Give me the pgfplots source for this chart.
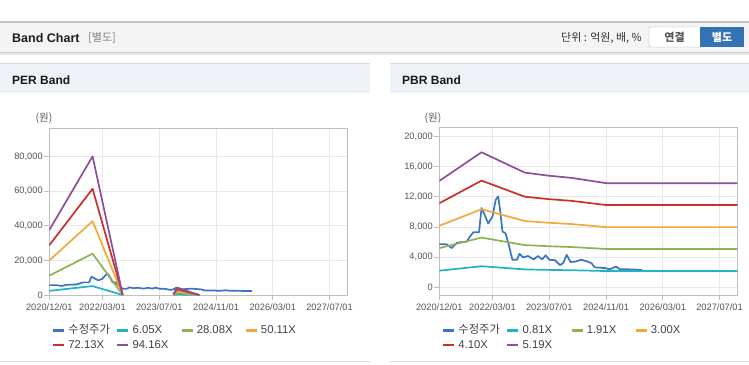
\documentclass[border=0pt]{standalone}
\usepackage{pgfplots}
\pgfplotsset{compat=1.18}
\usepackage{fontspec}
\setmainfont{Liberation Sans}
\newfontfamily\kr{Noto Sans CJK KR}
\definecolor{cPrice}{HTML}{3A75C4}
\definecolor{cCyan}{HTML}{22B2C6}
\definecolor{cGreen}{HTML}{8DB255}
\definecolor{cOrange}{HTML}{F5A83A}
\definecolor{cRed}{HTML}{C9302C}
\definecolor{cPurple}{HTML}{8E4E9C}
\definecolor{cTick}{HTML}{555555}
\definecolor{cFrame}{HTML}{C0C0C0}
\definecolor{cGrid}{HTML}{E8E8E8}
\definecolor{HeadBg}{HTML}{F4F4F4}
\definecolor{HeadLine}{HTML}{C4C4C4}
\definecolor{PanelBg}{HTML}{EEF2F7}
\definecolor{PanelLine}{HTML}{D6DAE0}
\definecolor{BtnBlue}{HTML}{3673B5}

\pgfplotsset{
  bandaxis/.style={
    scale only axis, width=298pt, height=167pt,
    xmin=0, xmax=84,
    xtick={0,15,31,47,63,79},
    xticklabels={2020/12/01,2022/03/01,2023/07/01,2024/11/01,2026/03/01,2027/07/01},
    scaled y ticks=false,
    grid=major, grid style={cGrid, line width=0.8pt},
    axis line style={cFrame, line width=1pt},
    tick style={cFrame, line width=0.8pt},
    major tick length=5pt, tick align=outside, tick pos=left,
    ticklabel style={font=\fontsize{9.3}{10}\selectfont, text=cTick},
    yticklabel style={xshift=2pt},
    every axis plot/.append style={line width=1.7pt, line join=round},
    unbounded coords=jump,
    legend columns=4,
    legend image code/.code={\draw[##1, line width=2.2pt] (0pt,0pt) -- (11pt,0pt);},
    legend cell align=left,
    legend style={at={(0.009,-0.18)}, anchor=north west, draw=none, fill=none,
      inner sep=0pt, row sep=4.3pt, font=\fontsize{11.3}{12}\selectfont, text=black!75,
      nodes={inner sep=0pt, text height=8pt, text depth=2.5pt},
      /tikz/every odd column/.style={column sep=0pt},
      /tikz/every even column/.style={column sep=0pt}},
  }
}

\begin{document}
\begin{tikzpicture}[x=1pt,y=1pt]
\path[use as bounding box] (0,0) rectangle (749,364);
\fill[white] (0,0) rectangle (749,364);
% top header
\fill[HeadBg] (0,312) rectangle (749,342);
\draw[HeadLine, line width=1.2pt] (0,342) -- (749,342);
\draw[black!20, line width=1pt] (0,311.5) -- (749,311.5);
\draw[black!9, line width=1.5pt] (0,310) -- (749,310);
\node[anchor=west, inner sep=0pt, font=\bfseries\fontsize{12.5}{14}\selectfont, text=black!88] at (12,326) {Band Chart};
\node[anchor=west, inner sep=0pt, font=\kr\fontsize{11}{12}\selectfont, text=black!50] at (88,326) {[별도]};
\node[anchor=east, inner sep=0pt, font=\kr\fontsize{11}{12}\selectfont, text=black!80] at (642,326) {단위 : 억원, 배, \%};
\draw[fill=white, draw=black!30, rounded corners=2pt] (649,317) rectangle (704,337);
\fill[BtnBlue] (700,317) rectangle (744,337);
\node[font=\kr\bfseries\fontsize{11}{12}\selectfont, text=black!65] at (674.5,327) {연결};
\node[font=\kr\bfseries\fontsize{11}{12}\selectfont, text=white] at (722,327) {별도};
% panels
\fill[PanelBg] (0,271) rectangle (370,300);
\draw[PanelLine, line width=1pt] (0,300) -- (370,300);
\draw[black!14, line width=1.6pt] (0,2.5) -- (370,2.5);
\node[anchor=west, inner sep=0pt, font=\bfseries\fontsize{12}{14}\selectfont, text=black!90] at (12,283.5) {PER Band};
\fill[PanelBg] (390,271) rectangle (749,300);
\draw[PanelLine, line width=1pt] (390,300) -- (749,300);
\draw[black!14, line width=1.6pt] (390,2.5) -- (749,2.5);
\node[anchor=west, inner sep=0pt, font=\bfseries\fontsize{12}{14}\selectfont, text=black!90] at (402,283.5) {PBR Band};
\node[font=\kr\fontsize{10.5}{12}\selectfont, text=black!65] at (44,246) {(원)};
\node[font=\kr\fontsize{10.5}{12}\selectfont, text=black!65] at (433,246) {(원)};

% PER axis
\begin{axis}[bandaxis, at={(49.3pt,69pt)}, anchor=south west,
  ymin=0, ymax=96400,
  ytick={0,20000,40000,60000,80000},
  yticklabels={0,{20,000},{40,000},{60,000},{80,000}}]
\addplot[cPrice] coordinates {(0,5700)(2.0,5700)(3.5,5200)(4.9,5900)(6.5,6000)(7.7,6050)(8.6,6700)(9.6,7300)(11.2,7300)(11.9,10500)(12.6,9800)(13.8,8450)(15.0,9400)(15.9,11600)(16.6,12050)(17.2,10000)(17.8,7400)(18.7,7150)(19.7,5400)(20.6,3650)(21.9,3650)(22.6,4450)(23.6,3950)(25.0,4150)(26.6,3700)(27.8,4150)(29.0,3700)(30.0,4250)(31.0,3650)(32.6,3600)(34.0,2950)(34.9,3200)(35.9,4300)(37.0,3350)(38.2,3400)(40.1,3650)(41.5,3450)(42.9,3200)(43.8,2650)(46.7,2550)(48.1,2400)(49.8,2750)(50.9,2400)(52.3,2400)(55.1,2350)(57.2,2300)};
\addlegendentry{\makebox[51pt][l]{\hspace{3pt}{\kr 수정주가}}}
\addplot[cCyan] coordinates {(0,2408)(12.2,5143)(20.7,0)(28,nan)(35,30)(36,272)(42.3,0)};
\addlegendentry{\makebox[51pt][l]{\hspace{3pt}6.05X}}
\addplot[cGreen] coordinates {(0,11176)(12.2,23868)(20.7,0)(28,nan)(35,140)(36,1264)(42.3,0)};
\addlegendentry{\makebox[51pt][l]{\hspace{3pt}28.08X}}
\addplot[cOrange] coordinates {(0,19944)(12.2,42594)(20.7,0)(28,nan)(35,251)(36,2255)(42.3,0)};
\addlegendentry{\makebox[51pt][l]{\hspace{3pt}50.11X}}
\addplot[cRed] coordinates {(0,28708)(12.2,61311)(20.7,0)(28,nan)(35,361)(36,3246)(42.3,0)};
\addlegendentry{\makebox[51pt][l]{\hspace{3pt}72.13X}}
\addplot[cPurple] coordinates {(0,37476)(12.2,80036)(20.7,0)(28,nan)(35,471)(36,4237)(42.3,0)};
\addlegendentry{\makebox[51pt][l]{\hspace{3pt}94.16X}}
\end{axis}

% PBR axis
\begin{axis}[bandaxis, at={(439.3pt,69pt)}, anchor=south west,
  ymin=-1020, ymax=21115,
  ytick={0,4000,8000,12000,16000,20000},
  yticklabels={0,{4,000},{8,000},{12,000},{16,000},{20,000}}]
\addplot[cPrice] coordinates {(0,5700)(2.0,5700)(3.5,5200)(4.9,5900)(6.5,6000)(7.7,6050)(8.6,6700)(9.6,7300)(11.2,7300)(11.9,10500)(12.6,9800)(13.8,8450)(15.0,9400)(15.9,11600)(16.6,12050)(17.2,10000)(17.8,7400)(18.7,7150)(19.7,5400)(20.6,3650)(21.9,3650)(22.6,4450)(23.6,3950)(25.0,4150)(26.6,3700)(27.8,4150)(29.0,3700)(30.0,4250)(31.0,3650)(32.6,3600)(34.0,2950)(34.9,3200)(35.9,4300)(37.0,3350)(38.2,3400)(40.1,3650)(41.5,3450)(42.9,3200)(43.8,2650)(46.7,2550)(48.1,2400)(49.8,2750)(50.9,2400)(52.3,2400)(55.1,2350)(57.2,2300)};
\addlegendentry{\makebox[51pt][l]{\hspace{3pt}{\kr 수정주가}}}
\addplot[cCyan] coordinates {(0,2201)(11.9,2794)(24.1,2372)(30.7,2310)(37.3,2263)(47.1,2154)(84,2154)};
\addlegendentry{\makebox[51pt][l]{\hspace{3pt}0.81X}}
\addplot[cGreen] coordinates {(0,5189)(11.9,6588)(24.1,5594)(30.7,5447)(37.3,5337)(47.1,5079)(84,5079)};
\addlegendentry{\makebox[51pt][l]{\hspace{3pt}1.91X}}
\addplot[cOrange] coordinates {(0,8151)(11.9,10347)(24.1,8787)(30.7,8556)(37.3,8382)(47.1,7977)(84,7977)};
\addlegendentry{\makebox[51pt][l]{\hspace{3pt}3.00X}}
\addplot[cRed] coordinates {(0,11140)(11.9,14141)(24.1,12009)(30.7,11693)(37.3,11455)(47.1,10902)(84,10902)};
\addlegendentry{\makebox[51pt][l]{\hspace{3pt}4.10X}}
\addplot[cPurple] coordinates {(0,14101)(11.9,17900)(24.1,15202)(30.7,14802)(37.3,14501)(47.1,13800)(84,13800)};
\addlegendentry{\makebox[51pt][l]{\hspace{3pt}5.19X}}
\end{axis}
\end{tikzpicture}
\end{document}
